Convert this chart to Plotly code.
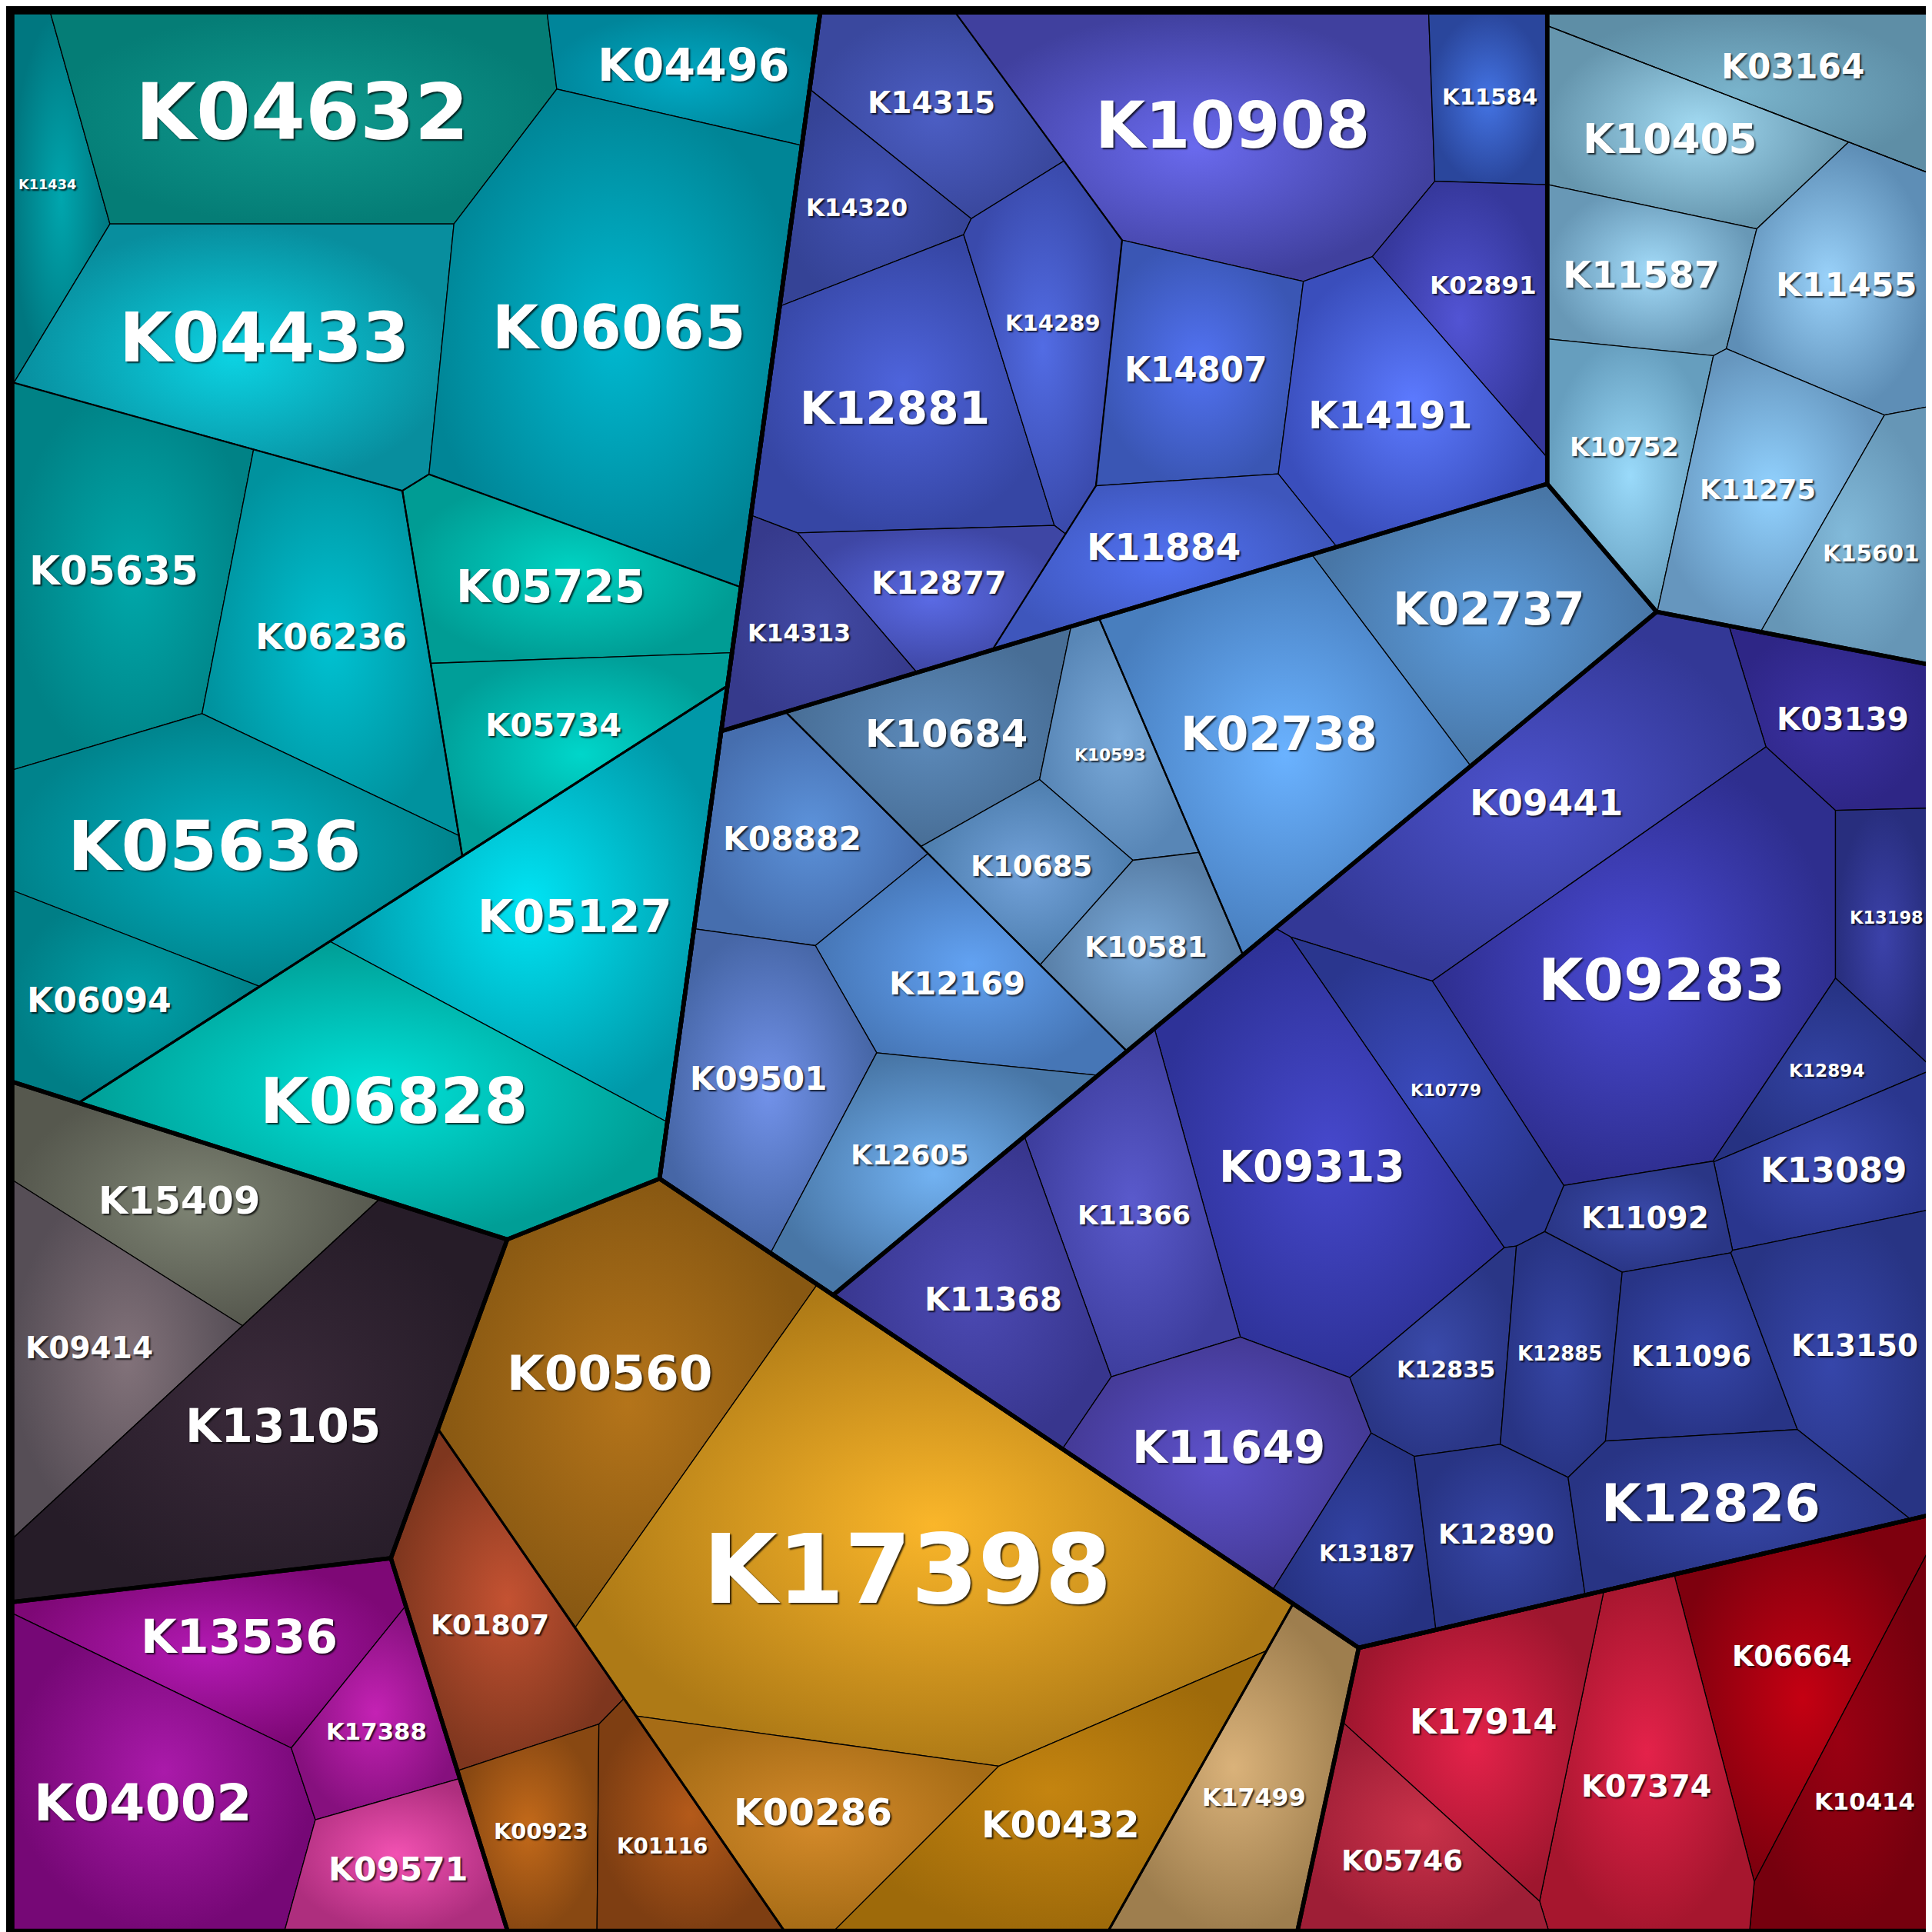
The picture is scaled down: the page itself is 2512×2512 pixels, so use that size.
import plotly.graph_objects as go

# ---- data: KO leaves, their size, and where they sit in the hierarchy ----
names = [
    "K11434", "K04632", "K04496", "K04433", "K06065", "K05635", "K06236", "K05725", "K05734",
    "K05636", "K05127", "K06094", "K06828",
    "K14315", "K10908", "K11584", "K14320", "K12881", "K14289", "K02891", "K14807", "K14191",
    "K11884", "K12877", "K14313",
    "K03164", "K10405", "K11587", "K11455", "K10752", "K11275", "K15601",
    "K02737", "K02738", "K10684", "K10593", "K10685", "K10581", "K08882", "K12169", "K09501", "K12605",
    "K03139", "K09441", "K09283", "K13198", "K12894", "K13089", "K11092", "K10779", "K09313",
    "K11366", "K11368", "K11649", "K12835", "K12885", "K11096", "K13150", "K13187", "K12890", "K12826",
    "K15409", "K09414", "K13105",
    "K00560", "K17398", "K00286", "K00432", "K01807", "K00923", "K01116", "K17499",
    "K13536", "K04002", "K17388", "K09571",
    "K06664", "K10414", "K07374", "K17914", "K05746",
]
values = [
    14.6, 61.5, 17.9, 55.9, 88.3, 46.3, 40.5, 27.4, 21.9, 50.1, 51.9, 19.3, 58.9,
    20.3, 61.8, 12.9, 13.6, 42.2, 22.6, 18.5, 26.4, 31.4, 19.7, 15.3, 14.7,
    21.9, 23.0, 18.2, 26.6, 19.5, 24.2, 17.3,
    33.4, 52.5, 21.7, 13.2, 12.9, 15.0, 22.6, 24.1, 30.2, 23.5,
    17.3, 49.0, 69.7, 13.3, 9.6, 15.9, 9.6, 18.6, 57.2, 27.6, 27.6, 30.0, 13.7, 14.8, 17.3, 26.8,
    14.0, 15.8, 23.7,
    28.1, 27.1, 67.2,
    59.9, 127.6, 25.9, 33.4, 26.0, 14.3, 16.0, 27.2,
    25.6, 46.9, 12.7, 15.9,
    29.2, 25.1, 34.3, 29.5, 18.6,
]
paths = (["T/Tu"] * 5
         + ["T/Tu/Ta", "T/Tu/Ta", "T/Tu/Tb", "T/Tu/Tb", "T/Tu/Ta", "T/Tc", "T/Tu/Ta", "T/Tc"]
         + ["X/B/Bl", "X/B", "X/B", "X/B/Bl", "X/B/Bl", "X/B/Bl", "X/B", "X/B", "X/B",
            "X/B", "X/B/Bl", "X/B/Bl"]
         + ["X/C"] + ["X/C/Cx"] * 6
         + ["X/D/D1"] * 2 + ["X/D/D2"] * 4 + ["X/D/D3"] * 4
         + ["X/E"] * 19
         + ["F/Fa", "F/Fa", "F"]
         + ["G/G1"] * 4 + ["G/G2"] * 3 + ["G/G3"]
         + ["H"] * 4 + ["I"] * 5)

# ---- layout: generator point of each cell (plot units 0..1568, y down) ----
seeds = {
    "K11434": (37, 142), "K04632": (232, 87), "K04496": (548, 47), "K04433": (232, 260),
    "K06065": (493, 286), "K05635": (76, 452), "K06236": (240, 484), "K05725": (401, 485),
    "K05734": (405, 598), "K05636": (145, 684), "K05127": (438, 745), "K06094": (100, 800),
    "K06828": (355, 900),
    "K14315": (753, 74), "K10908": (1017, 87), "K11584": (1209, 80), "K14320": (676, 170),
    "K12881": (729, 306), "K14289": (870, 262), "K02891": (1204, 242), "K14807": (966, 311),
    "K14191": (1104, 329), "K11884": (974, 433), "K12877": (733, 443), "K14313": (650, 514),
    "K03164": (1486, 58), "K10405": (1343, 97), "K11587": (1321, 201), "K11455": (1479, 241),
    "K10752": (1305, 359), "K11275": (1419, 384), "K15601": (1517, 440),
    "K02737": (1192, 476), "K02738": (1047, 585), "K10684": (768, 581), "K10593": (899, 608),
    "K08882": (643, 666), "K10685": (829, 689), "K10581": (918, 768), "K12169": (746, 792),
    "K09501": (615, 867), "K12605": (732, 929),
    "K03139": (1509, 578), "K09441": (1231, 663), "K09283": (1318, 787), "K13198": (1514, 787),
    "K12894": (1439, 868), "K13089": (1469, 939), "K11092": (1347, 965), "K10779": (1161, 888),
    "K09313": (1065, 954), "K11366": (925, 993), "K11368": (784, 1044), "K11649": (982, 1178),
    "K12835": (1187, 1099), "K12885": (1273, 1106), "K11096": (1374, 1116), "K13150": (1496, 1070),
    "K13187": (1103, 1254), "K12890": (1207, 1241), "K12826": (1380, 1216),
    "K15409": (150, 968), "K09414": (81, 1077), "K13105": (235, 1150),
    "K00560": (477, 1100), "K17398": (718, 1270), "K00286": (700, 1400), "K00432": (830, 1530),
    "K01807": (397, 1344), "K00923": (448, 1499), "K01116": (556, 1500), "K17499": (1010, 1468),
    "K13536": (182, 1316), "K04002": (111, 1463), "K17388": (290, 1403), "K09571": (324, 1522),
    "K06664": (1445, 1400), "K10414": (1540, 1450), "K07374": (1330, 1430), "K17914": (1190, 1401),
    "K05746": (1100, 1500),
}
group_seeds = {
    "T": (280, 440), "X": (1144, 559), "F": (65, 1115), "G": (632, 1322), "H": (108, 1486),
    "I": (1358, 1479),
    "X/B": (930, 250), "X/C": (1563, 250), "X/D": (1059, 681), "X/E": (1400, 1092),
    "T/Tu": (260, 400), "T/Tc": (530, 820),
}
thick_groups = {"T", "X", "F", "G", "H", "I", "X/B", "X/C", "X/D", "X/E"}
quiet_groups = {"F/Fa", "X/C/Cx"}

# ---- style: (centre colour, rim colour) of each cell's radial gradient ----
colors = {
    "K11434": ("#00a6ae", "#007780"), "K04632": ("#0f9a8e", "#057d76"), "K04496": ("#00aac4", "#00859a"),
    "K04433": ("#0cd2e2", "#088e9e"), "K06065": ("#00b8d0", "#008596"), "K05635": ("#00a8aa", "#008286"),
    "K06236": ("#00c2d2", "#00929e"), "K05725": ("#00d2c2", "#009c94"), "K05734": ("#00d6ca", "#009e98"),
    "K05636": ("#00b2c2", "#00838c"), "K05127": ("#00e4f4", "#0098a8"), "K06094": ("#00a2aa", "#007e86"),
    "K06828": ("#00e2d8", "#009e96"),
    "K14315": ("#4c5ec4", "#3a489e"), "K10908": ("#6a6aee", "#40409e"), "K11584": ("#4474e4", "#2a469c"),
    "K14320": ("#4252b4", "#354396"), "K12881": ("#4e64dc", "#3646a4"), "K14289": ("#526ce4", "#3a4aac"),
    "K02891": ("#5254d4", "#36389c"), "K14807": ("#5272f2", "#3a56b4"), "K14191": ("#5c7aff", "#3a4ebc"),
    "K11884": ("#5272f2", "#3e56bc"), "K12877": ("#5a6ae4", "#3e46a4"), "K14313": ("#424aa4", "#363a8c"),
    "K03164": ("#7ab4cc", "#5e8ea6"), "K10405": ("#a2daf2", "#6696ae"), "K11587": ("#a2daf8", "#6898b6"),
    "K11455": ("#9ad2fa", "#5e8eb6"), "K10752": ("#9adafa", "#669ebe"), "K11275": ("#92d2ff", "#6696be"),
    "K15601": ("#82bada", "#6696b6"),
    "K02737": ("#5c9cdc", "#4876a6"), "K02738": ("#6ab2ff", "#487ebe"), "K10684": ("#5c8aba", "#486e96"),
    "K10593": ("#7aaada", "#5886b6"), "K08882": ("#5c92da", "#466eae"), "K10685": ("#72a2da", "#4e7eae"),
    "K10581": ("#7aaada", "#587ea6"), "K12169": ("#62a2f2", "#4676b6"), "K09501": ("#7292ea", "#4666a6"),
    "K12605": ("#72b2f2", "#4876a6"),
    "K03139": ("#3c32a4", "#2e2686"), "K09441": ("#4c52cc", "#333896"), "K09283": ("#4a4ad4", "#2e2e8e"),
    "K13198": ("#3c42aa", "#282e7e"), "K12894": ("#3242a2", "#263282"), "K13089": ("#3c4ab2", "#2a368e"),
    "K11092": ("#3a4aaa", "#2a3686"), "K10779": ("#3a4abc", "#2a368e"), "K09313": ("#4648cc", "#2e3298"),
    "K11366": ("#5a5acc", "#3e3e9e"), "K11368": ("#4c4ab4", "#38368e"), "K11649": ("#5e52cc", "#443a96"),
    "K12835": ("#3a4aaa", "#2a3686"), "K12885": ("#3646a6", "#283484"), "K11096": ("#3646aa", "#283486"),
    "K13150": ("#3646aa", "#283484"), "K13187": ("#3242a2", "#263282"), "K12890": ("#3646a6", "#283484"),
    "K12826": ("#3646a6", "#283484"),
    "K15409": ("#7e8474", "#56584e"), "K09414": ("#82727a", "#564e56"), "K13105": ("#3a2a3a", "#261c28"),
    "K00560": ("#b4741a", "#885812"), "K17398": ("#fab62a", "#ae7a16"), "K00286": ("#d48a2a", "#a66c16"),
    "K00432": ("#c48410", "#9e6a0a"), "K01807": ("#c45232", "#7e361e"), "K00923": ("#c46a1a", "#884812"),
    "K01116": ("#b45a1a", "#7e3e12"), "K17499": ("#dab27a", "#9e7e4e"),
    "K13536": ("#b41ab4", "#7e0876"), "K04002": ("#aa1aaa", "#760876"), "K17388": ("#c422b4", "#86107e"),
    "K09571": ("#f252b2", "#ae2e7e"),
    "K06664": ("#c40012", "#7e000e"), "K10414": ("#9a0012", "#76000e"), "K07374": ("#e4224a", "#a6162e"),
    "K17914": ("#e4224a", "#9e162e"), "K05746": ("#ca324a", "#9e1e36"),
}

LO, HI = 5.0, 1562.0          # drawing square, plot units
SCALE = 2512 / 1568.0         # pixels per plot unit


def clip(poly, ax, ay, b):
    out = []
    px, py = poly[-1]
    fp = ax * px + ay * py - b
    for qx, qy in poly:
        fq = ax * qx + ay * qy - b
        if fq <= 0:
            if fp > 0:
                t = fp / (fp - fq)
                out.append((px + t * (qx - px), py + t * (qy - py)))
            out.append((qx, qy))
        elif fp <= 0:
            t = fp / (fp - fq)
            out.append((px + t * (qx - px), py + t * (qy - py)))
        px, py, fp = qx, qy, fq
    return out


def area_centroid(poly):
    a = cx = cy = 0.0
    for k in range(len(poly)):
        x0, y0 = poly[k - 1]
        x1, y1 = poly[k]
        c = x0 * y1 - x1 * y0
        a += c
        cx += (x0 + x1) * c
        cy += (y0 + y1) * c
    if abs(a) < 1e-9:
        return 0.0, None
    return abs(a) / 2, (cx / (3 * a), cy / (3 * a))


def power_cells(sites, w, container):
    cells = []
    n = len(sites)
    for i in range(n):
        xi, yi = sites[i]
        poly = container
        for j in range(n):
            if j == i:
                continue
            xj, yj = sites[j]
            poly = clip(poly, 2 * (xj - xi), 2 * (yj - yi),
                        xj * xj + yj * yj - xi * xi - yi * yi - w[j] + w[i])
            if len(poly) < 3:
                poly = []
                break
        cells.append(poly)
    return cells


def fit(container, sites, vals, iters=2500, step=0.2, tol=0.003):
    # power diagram whose cell areas follow vals
    if len(sites) == 1:
        return [container]
    A = area_centroid(container)[0]
    tot = sum(vals)
    target = [v / tot * A for v in vals]
    w = [0.0] * len(sites)
    cells = power_cells(sites, w, container)
    for _ in range(iters):
        areas = [area_centroid(c)[0] if c else 0.0 for c in cells]
        err = max(abs(a - t) / t for a, t in zip(areas, target))
        if err < tol:
            break
        w = [wi + step * (t - a) for wi, t, a in zip(w, target, areas)]
        cells = power_cells(sites, w, container)
    return cells


def inside(poly, x, y):
    s = 0
    for k in range(len(poly)):
        x0, y0 = poly[k - 1]
        x1, y1 = poly[k]
        c = (x1 - x0) * (y - y0) - (y1 - y0) * (x - x0)
        if c != 0:
            if s == 0:
                s = 1 if c > 0 else -1
            elif (c > 0) != (s > 0):
                return False
    return True


def label_em(poly, cx, cy, nchar):
    # largest font whose text box fits the cell around its centroid
    lo, hi = 0.0, 90.0
    for _ in range(28):
        em = (lo + hi) / 2
        hw = 0.71 * nchar * em * 1.2 / 2
        hh = 0.62 * em
        if all(inside(poly, cx + dx * hw, cy + dy * hh) for dx in (-1, 1) for dy in (-1, 1)):
            lo = em
        else:
            hi = em
    return lo


full_paths = [p + "/" + n for p, n in zip(paths, names)]
node_poly = {}


def build(prefix, container):
    depth = prefix.count("/")
    members = [i for i, fp in enumerate(full_paths) if fp.startswith(prefix)]
    keys = list(dict.fromkeys("/".join(full_paths[i].split("/")[:depth + 1]) for i in members))
    sites, vals = [], []
    for k in keys:
        idx = [i for i in members if full_paths[i] == k or full_paths[i].startswith(k + "/")]
        tot = sum(values[i] for i in idx)
        vals.append(tot)
        if k in group_seeds:
            sites.append(group_seeds[k])
        else:
            sites.append((sum(seeds[names[i]][0] * values[i] for i in idx) / tot,
                          sum(seeds[names[i]][1] * values[i] for i in idx) / tot))
    for k, c in zip(keys, fit(container, sites, vals)):
        node_poly[k] = c
        if c and k not in full_paths:
            build(k + "/", c)


square = [(LO, LO), (HI, LO), (HI, HI), (LO, HI)]
build("", square)

fig = go.Figure()
annotations = []
for name, fp in zip(names, full_paths):
    poly = node_poly.get(fp)
    if not poly:
        continue
    inner, outer = colors[name]
    fig.add_trace(go.Scatter(
        x=[p[0] for p in poly] + [poly[0][0]], y=[p[1] for p in poly] + [poly[0][1]],
        mode="lines", fill="toself",
        line=dict(color="black", width=1.3),
        fillcolor=inner,
        fillgradient=dict(type="radial", colorscale=[[0, inner], [1, outer]]),
        hoverinfo="skip", showlegend=False))
    a, c = area_centroid(poly)
    em = min(label_em(poly, c[0], c[1], len(name)), 82)
    annotations.append(dict(
        x=c[0], y=c[1], xref="x", yref="y", text=name, showarrow=False,
        font=dict(family="DejaVu Sans", size=em * SCALE, color="white", weight="bold",
                  shadow="2px 2px 2px rgba(0,0,0,0.75)")))


def outline_width(k):
    if k in thick_groups:
        return 5.5
    if k in quiet_groups:
        return 1.3
    return 3.0 if k.count("/") == 1 else 2.2


groups_drawn = [k for k in node_poly if k not in full_paths and node_poly[k]]
groups_drawn.sort(key=outline_width)
for k in groups_drawn:
    poly = node_poly[k]
    fig.add_trace(go.Scatter(
        x=[p[0] for p in poly] + [poly[0][0]], y=[p[1] for p in poly] + [poly[0][1]],
        mode="lines", line=dict(color="black", width=outline_width(k)),
        hoverinfo="skip", showlegend=False))

fig.update_layout(
    width=2512, height=2512,
    margin=dict(l=0, r=0, t=0, b=0),
    paper_bgcolor="black", plot_bgcolor="black",
    xaxis=dict(range=[0, 1568], visible=False, fixedrange=True),
    yaxis=dict(range=[1568, 0], visible=False, fixedrange=True),
    annotations=annotations,
)
fig.write_html("out.html")
